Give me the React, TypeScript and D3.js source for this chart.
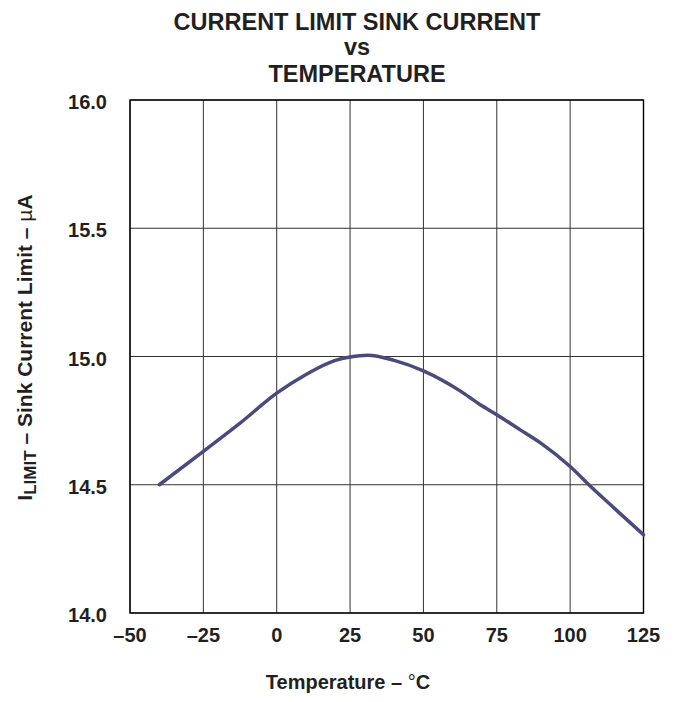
import React from "react";
import * as d3 from "d3";

const titleLines = ["CURRENT LIMIT SINK CURRENT", "vs", "TEMPERATURE"];
const xTicks = [-50, -25, 0, 25, 50, 75, 100, 125];
const yTicks = [14.0, 14.5, 15.0, 15.5, 16.0];
const temps = [-40, -25, -12.5, 0, 10, 20, 25, 31, 40, 50, 62.5, 69, 75, 83, 90, 100, 107, 115, 125];
const sinkCurrent = [14.5, 14.63, 14.74, 14.857, 14.93, 14.985, 14.998, 15.005, 14.985, 14.944, 14.866, 14.815, 14.773, 14.714, 14.662, 14.571, 14.493, 14.409, 14.305];

const W = 674;
const H = 702;
const left = 130;
const right = 643.5;
const top = 100;
const bottom = 613;

export default function App() {
  const x = d3.scaleLinear().domain([-50, 125]).range([left, right]);
  const y = d3.scaleLinear().domain([14, 16]).range([bottom, top]);
  const pts = temps.map((t, i) => [t, sinkCurrent[i]] as [number, number]);
  const line = d3
    .line<[number, number]>()
    .x((d) => x(d[0]))
    .y((d) => y(d[1]))
    .curve(d3.curveMonotoneX);
  const tickFont = "'Liberation Sans Narrow', 'Liberation Sans', Arial, sans-serif";
  const font = "'Liberation Sans', Arial, sans-serif";
  return (
    <svg
      width={W}
      height={H}
      style={{ position: "absolute", left: 0, top: 0, background: "#fff" }}
    >
      <rect x={0} y={0} width={W} height={H} fill="#fff" />
      {titleLines.map((t, i) => (
        <text
          key={t}
          x={357}
          y={[30, 55, 82][i]}
          textAnchor="middle"
          fontFamily={font}
          fontWeight="bold"
          fontSize={23.5}
          fill="#231f20"
        >
          {t}
        </text>
      ))}
      {xTicks.map((t) => (
        <line key={"gx" + t} x1={x(t)} x2={x(t)} y1={top} y2={bottom} stroke="#333" strokeWidth={1} />
      ))}
      {yTicks.map((t) => (
        <line key={"gy" + t} x1={left} x2={right} y1={y(t)} y2={y(t)} stroke="#333" strokeWidth={1} />
      ))}
      <rect x={left} y={top} width={right - left} height={bottom - top} fill="none" stroke="#000" strokeWidth={1.4} />
      <path d={line(pts) || ""} fill="none" stroke="#4b4a7c" strokeWidth={3.5} strokeLinejoin="round" strokeLinecap="round" />
      {yTicks.map((t) => (
        <text
          key={"ly" + t}
          x={107}
          y={y(t) + 9}
          textAnchor="end"
          fontFamily={tickFont}
          fontWeight="bold"
          fontSize={20}
          fill="#231f20"
        >
          {t.toFixed(1)}
        </text>
      ))}
      {xTicks.map((t) => (
        <text
          key={"lx" + t}
          x={x(t)}
          y={642}
          textAnchor="middle"
          fontFamily={tickFont}
          fontWeight="bold"
          fontSize={20}
          fill="#231f20"
        >
          {t < 0 ? "\u2013" + Math.abs(t) : String(t)}
        </text>
      ))}
      <text x={348} y={689} textAnchor="middle" fontFamily={font} fontWeight="bold" fontSize={20} fill="#231f20">
        Temperature {"\u2013"} <tspan fontWeight="normal">°</tspan>C
      </text>
      <text
        transform={`translate(32, 347.5) rotate(-90)`}
        textAnchor="middle"
        fontFamily={font}
        fontWeight="bold"
        fontSize={21}
        fill="#231f20"
      >
        I<tspan fontSize={17} dy={4}>LIMIT</tspan>
        <tspan dy={-4}> {"\u2013"} Sink Current Limit {"\u2013"} </tspan>
        <tspan fontWeight="normal">µ</tspan>A
      </text>
    </svg>
  );
}
